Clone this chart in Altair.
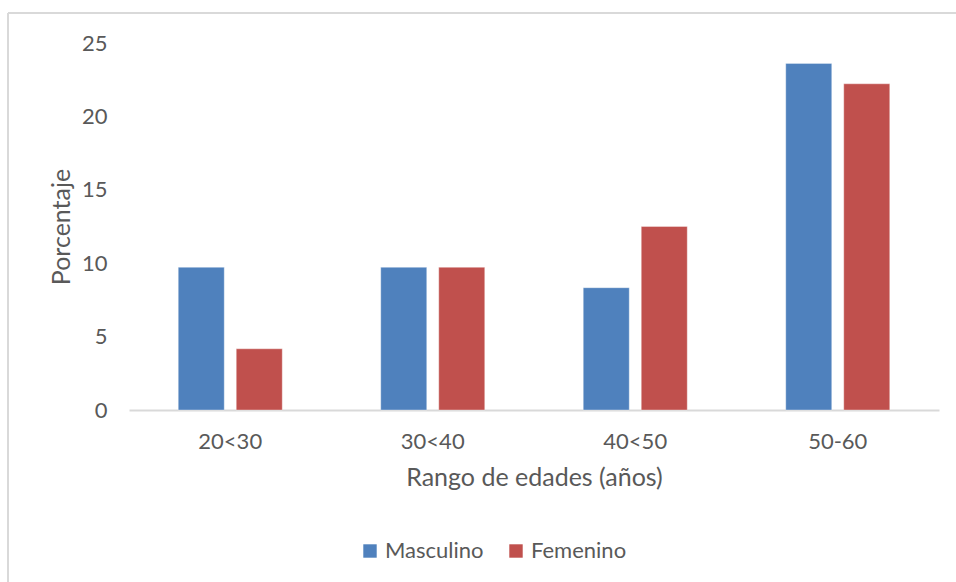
import altair as alt
import pandas as pd

# Porcentaje de participantes por rango de edad y sexo
rangos = ["20<30", "30<40", "40<50", "50-60"]
masculino = [9.72, 9.72, 8.33, 23.61]
femenino = [4.17, 9.72, 12.5, 22.22]
sexos = ["Masculino", "Femenino"]
colores = ["#4F81BD", "#C0504D"]

rows = []
for i, r in enumerate(rangos):
    rows.append({"rango": r, "sexo": "Masculino", "valor": masculino[i]})
    rows.append({"rango": r, "sexo": "Femenino", "valor": femenino[i]})
df = pd.DataFrame(rows)

FONT = "Lato"
TXT = "#595959"

bars = alt.Chart(df).mark_bar(strokeWidth=1, strokeOpacity=0.35, stroke="white").encode(
    x=alt.X(
        "rango:N",
        sort=rangos,
        title="Rango de edades (años)",
        scale=alt.Scale(paddingInner=0, paddingOuter=0),
        axis=alt.Axis(
            labelAngle=0,
            ticks=False,
            domainColor="#D9D9D9",
            domainWidth=2,
            labelPadding=21,
            titlePadding=13,
            labelFontSize=22,
            titleFontSize=25,
            titleFontWeight="normal",
            labelColor=TXT,
            titleColor=TXT,
            labelFont=FONT,
            titleFont=FONT,
        ),
    ),
    xOffset=alt.XOffset(
        "sexo:N",
        sort=sexos,
        scale=alt.Scale(paddingInner=0.207, paddingOuter=0.849),
    ),
    y=alt.Y(
        "valor:Q",
        title="Porcentaje",
        scale=alt.Scale(domain=[0, 25], nice=False),
        axis=alt.Axis(
            values=[0, 5, 10, 15, 20, 25],
            grid=False,
            domain=False,
            ticks=False,
            labelPadding=22,
            titlePadding=7,
            labelFontSize=22,
            titleFontSize=25,
            titleFontWeight="normal",
            labelColor=TXT,
            titleColor=TXT,
            labelFont=FONT,
            titleFont=FONT,
        ),
    ),
    color=alt.Color(
        "sexo:N",
        sort=sexos,
        scale=alt.Scale(domain=sexos, range=colores),
        legend=alt.Legend(
            title=None,
            orient="none",
            direction="horizontal",
            legendX=230,
            legendY=497,
            symbolType="square",
            symbolSize=180,
            symbolStrokeWidth=0,
            labelFontSize=22,
            labelColor=TXT,
            labelFont=FONT,
            columnPadding=21,
            labelOffset=4,
        ),
    ),
)

# Marco del gráfico (izquierda y arriba)
frame_left = alt.Chart(df).mark_rule(color="#D9D9D9", strokeWidth=2, clip=False).encode(
    x=alt.value(-121), y=alt.value(-30), y2=alt.value(560)
)
frame_top = alt.Chart(df).mark_rule(color="#D9D9D9", strokeWidth=2, clip=False).encode(
    x=alt.value(-121), x2=alt.value(840), y=alt.value(-30)
)

chart = (
    alt.layer(frame_left, frame_top, bars)
    .properties(
        width=810,
        height=367,
        padding={"left": 129, "top": 43, "right": 17, "bottom": 172},
        autosize=alt.AutoSizeParams(type="none"),
        background="white",
    )
    .configure_view(stroke=None)
)

chart.save("out.html", embed_options={"renderer": "svg", "actions": False})
